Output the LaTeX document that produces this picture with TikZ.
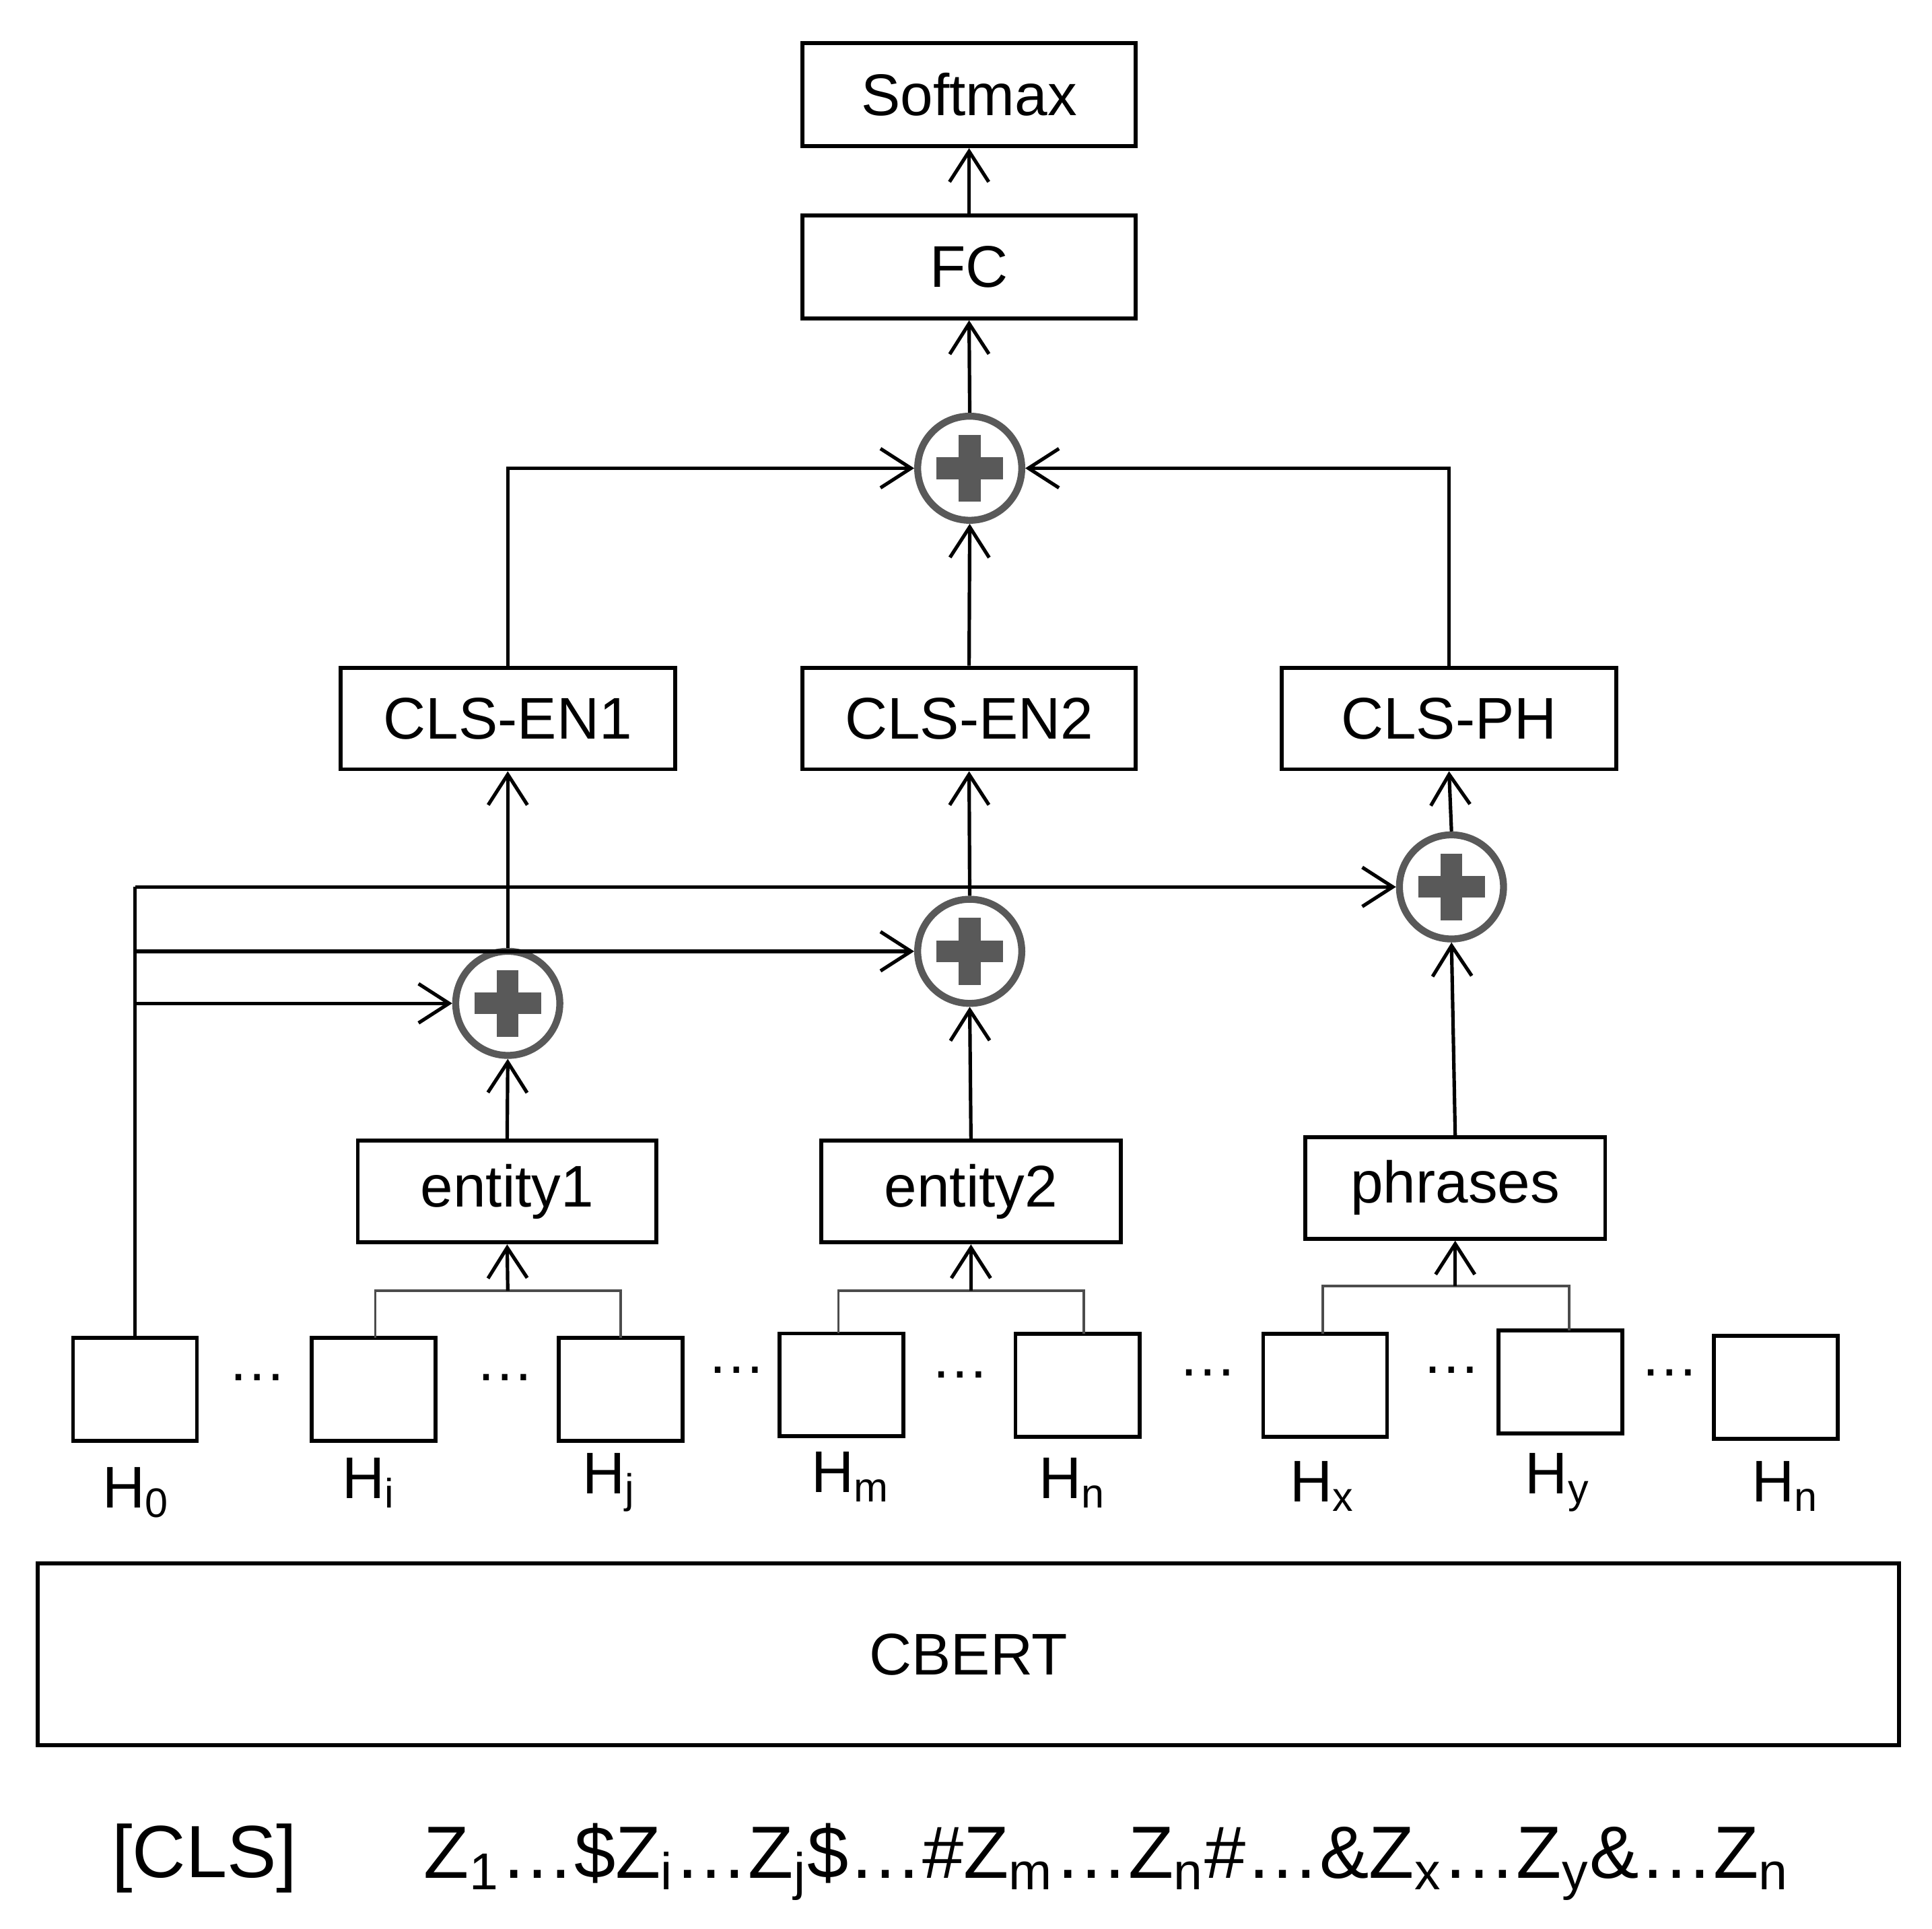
\documentclass[tikz,border=0pt]{standalone}
\usepackage{fontspec}
\setmainfont{Liberation Sans}
\usetikzlibrary{arrows.meta}
\begin{document}
\begin{tikzpicture}[x=0.01cm,y=-0.01cm,
  box/.style={draw,line width=0.9pt,inner sep=0pt,font=\fontsize{13.5pt}{16pt}\selectfont},
  hb/.style={draw,line width=0.9pt,inner sep=0pt,minimum width=1.0cm,minimum height=0.83cm},
  pl/.style={draw=black!65,line width=1.6pt,circle,minimum size=0.84cm,inner sep=0pt},
  arr/.style={line width=0.8pt,-{Straight Barb[length=7pt,width=9pt]}},
  thin/.style={line width=0.6pt,draw=black!70},
  lab/.style={font=\fontsize{13.5pt}{16pt}\selectfont},
  dots/.style={font=\fontsize{13.5pt}{16pt}\selectfont}]
\useasboundingbox (0,0) rectangle (1560,1557);
\fill[white] (0,0) rectangle (1560,1557);
% top boxes
\node[box,minimum width=2.69cm,minimum height=0.83cm] (sm) at (782.5,76.5) {Softmax};
\node[box,minimum width=2.69cm,minimum height=0.83cm] (fc) at (782.5,215.5) {FC};
\node[box,minimum width=2.70cm,minimum height=0.82cm] (c1) at (410,580) {CLS-EN1};
\node[box,minimum width=2.69cm,minimum height=0.82cm] (c2) at (782.5,580) {CLS-EN2};
\node[box,minimum width=2.70cm,minimum height=0.82cm] (c3) at (1170,580) {CLS-PH};
\node[box,minimum width=2.41cm,minimum height=0.82cm] (e1) at (409.5,962) {entity1};
\node[box,minimum width=2.42cm,minimum height=0.82cm] (e2) at (784,962) {entity2};
\node[box,minimum width=2.42cm,minimum height=0.82cm] (ph) at (1175,959) {phrases};
% plus circles
\foreach \n/\x/\y in {pt/783/378, p1/410/810, p2/783/768, p3/1172/716}{
  \node[pl] (\n) at (\x,\y) {};
  \draw[black!65,line width=5pt] (\x-27,\y) -- (\x+27,\y) (\x,\y-27) -- (\x,\y+27);
}
% H boxes
\node[hb] (h0) at (109,1121.5) {};
\node[hb] (hi) at (301.5,1121.5) {};
\node[hb] (hj) at (501,1121.5) {};
\node[hb] (hm) at (679.5,1118) {};
\node[hb] (hn) at (870,1118.5) {};
\node[hb] (hx) at (1070,1118.5) {};
\node[hb] (hy) at (1260,1115.5) {};
\node[hb] (hz) at (1434,1120) {};
\foreach \x/\y in {208/1112,408/1112,595/1106,775/1110,975/1108,1172/1106,1348/1108}
  \node[dots] at (\x,\y) {…};
\node[lab] at (110,1205) {H\textsubscript{0}};
\node[lab] at (298,1197) {H\textsubscript{i}};
\node[lab] at (492,1197) {H\textsubscript{j}};
\node[lab] at (687,1192) {H\textsubscript{m}};
\node[lab] at (866,1197) {H\textsubscript{n}};
\node[lab] at (1068,1200) {H\textsubscript{x}};
\node[lab] at (1258,1197) {H\textsubscript{y}};
\node[lab] at (1442,1200) {H\textsubscript{n}};
% CBERT
\node[box,minimum width=15.02cm,minimum height=1.47cm] (cb) at (782,1335.5) {CBERT};
\node[font=\fontsize{17pt}{20pt}\selectfont] at (165,1500) {[CLS]};
\node[font=\fontsize{17pt}{20pt}\selectfont,anchor=west] at (330,1503)
 {Z\textsubscript{1}…\$Z\textsubscript{i}…Z\textsubscript{j}\$…\#Z\textsubscript{m}…Z\textsubscript{n}\#…\&Z\textsubscript{x}…Z\textsubscript{y}\&…Z\textsubscript{n}};
% brackets
\coordinate (b1) at (410,1042); \coordinate (b2) at (784,1042); \coordinate (b3) at (1175,1038);
\draw[thin] (303,1080) |- (501,1042) -- (501,1080);
\draw[thin] (677,1076) |- (875,1042) -- (875,1077);
\draw[thin] (1068,1077) |- (1267,1038) -- (1267,1074);
\draw[arr] (b1) -- (e1.south);
\draw[arr] (b2) -- (e2.south);
\draw[arr] (b3) -- (ph.south);
% entity to plus
\draw[arr] (e1.north) -- (p1.south);
\draw[arr] (e2.north) -- (p2.south);
\draw[arr] (ph.north) -- (p3.south);
% H0 branches
\draw[line width=0.8pt] (h0.north) -- (109,716);
\draw[arr] (109,716) -- (p3.west);
\draw[arr] (109,768) -- (p2.west);
\draw[arr] (109,810) -- (p1.west);
% plus to CLS
\draw[arr] (p1.north) -- (c1.south);
\draw[arr] (p2.north) -- (c2.south);
\draw[arr] (p3.north) -- (c3.south);
% CLS to top plus
\draw[arr] (c1.north) |- (pt.west);
\draw[arr] (c3.north) |- (pt.east);
\draw[arr] (c2.north) -- (pt.south);
\draw[arr] (pt.north) -- (fc.south);
\draw[arr] (fc.north) -- (sm.south);
\end{tikzpicture}
\end{document}
